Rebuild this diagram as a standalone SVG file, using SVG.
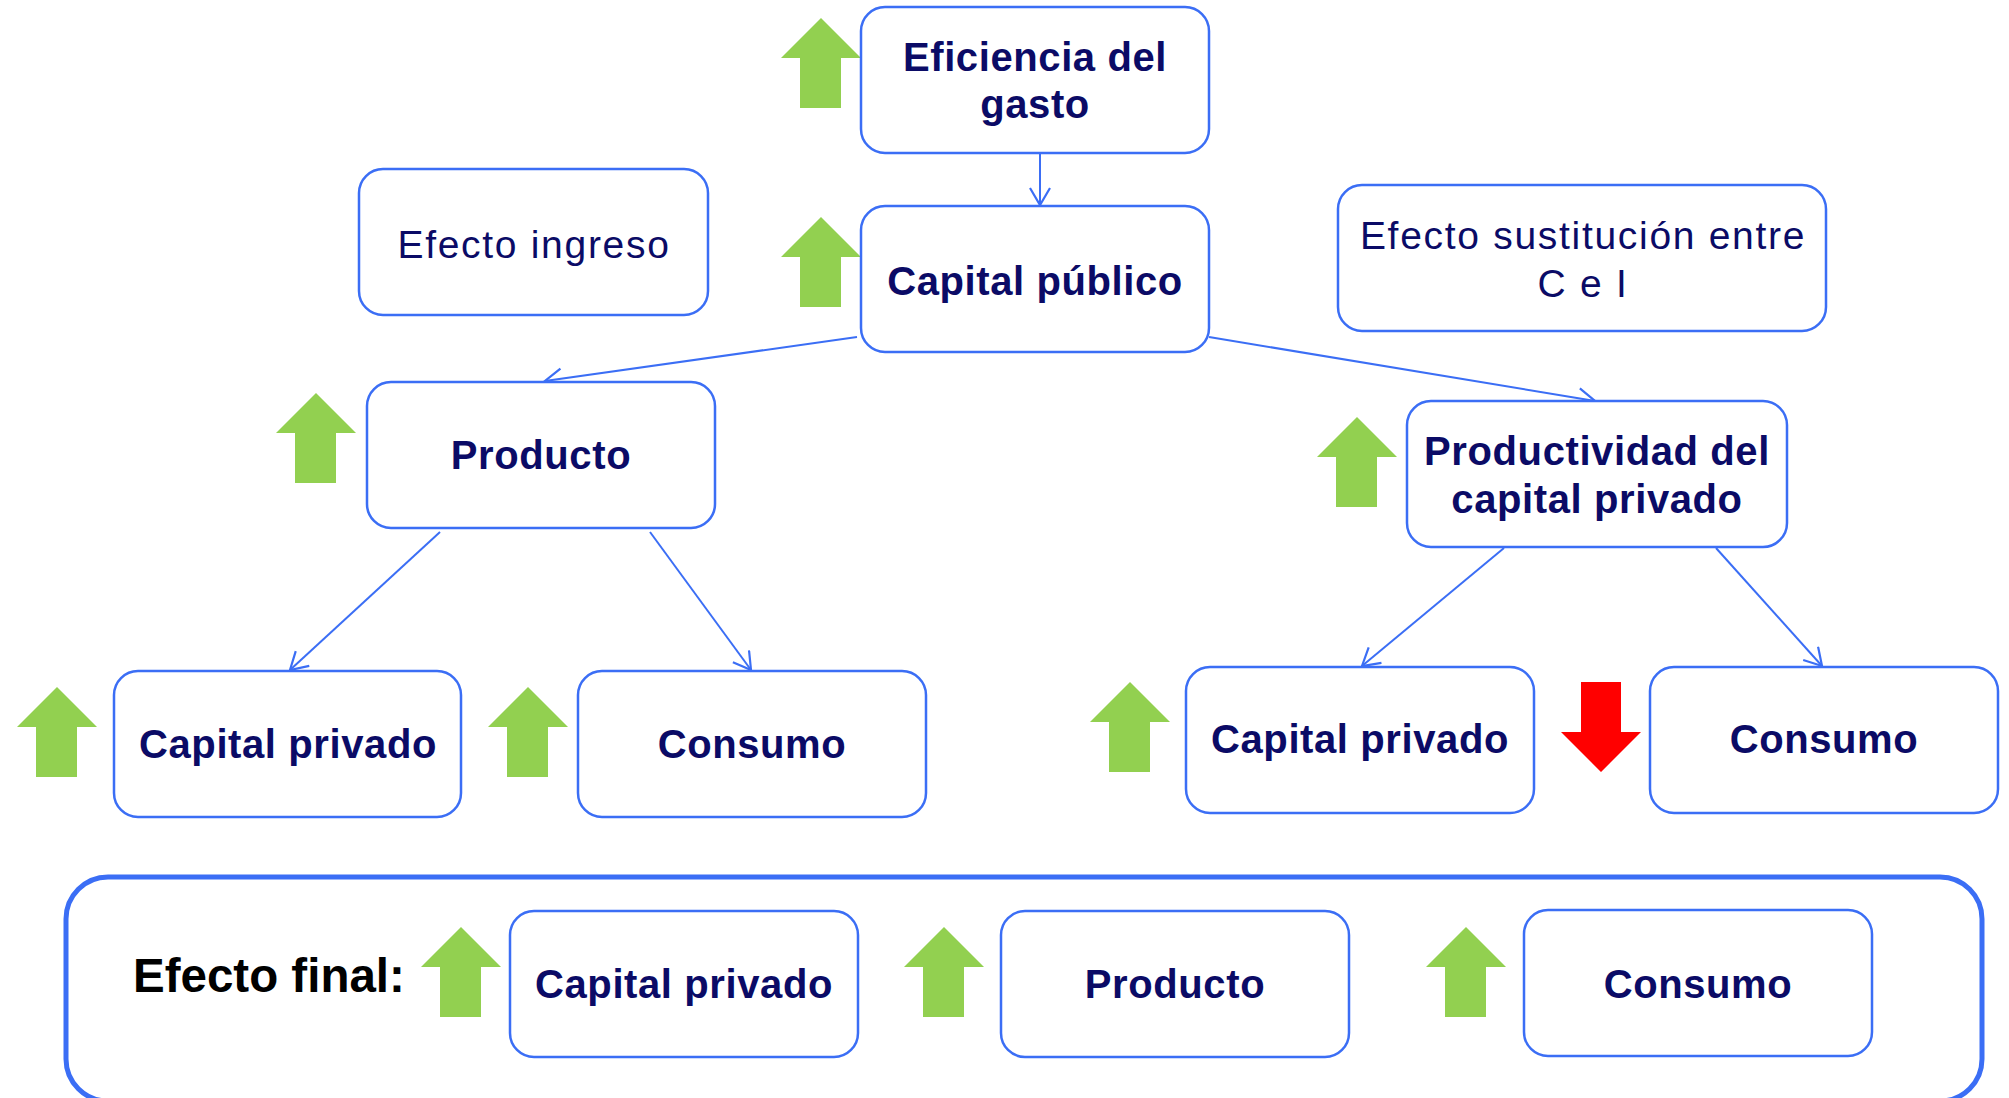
<svg xmlns="http://www.w3.org/2000/svg" xmlns:xlink="http://www.w3.org/1999/xlink" width="2009" height="1098" viewBox="0 0 2009 1098">
<style>
.box{fill:#fff;stroke:#3B6EF5;stroke-width:2.5}
.t{font-family:"Liberation Sans",Arial,sans-serif;font-weight:bold;font-size:40px;fill:#0B0B66;text-anchor:middle;letter-spacing:0.6px}
.r{font-family:"Liberation Sans",Arial,sans-serif;font-size:39px;fill:#0B0B66;text-anchor:middle;letter-spacing:1.7px}
.c{fill:none;stroke:#3B6EF5;stroke-width:2}
.up{fill:#92D050}
</style>
<defs>
<marker id="ah" markerUnits="userSpaceOnUse" markerWidth="22" markerHeight="24" refX="18" refY="11" orient="auto">
<path d="M1,1 L18,11 L1,21" fill="none" stroke="#3B6EF5" stroke-width="2.2"/>
</marker>
<path id="ua" d="M0,0 L40,40 L20,40 L20,90 L-21,90 L-21,40 L-40,40 Z"/>
</defs>
<rect width="2009" height="1098" fill="#fff"/>
<g id="connectors">
<line class="c" x1="1040" y1="153" x2="1040" y2="205" marker-end="url(#ah)"/>
<line class="c" x1="857" y1="337" x2="545" y2="381" marker-end="url(#ah)"/>
<line class="c" x1="1209" y1="337" x2="1595" y2="401" marker-end="url(#ah)"/>
<line class="c" x1="440" y1="532" x2="290" y2="670" marker-end="url(#ah)"/>
<line class="c" x1="650" y1="532" x2="751" y2="670" marker-end="url(#ah)"/>
<line class="c" x1="1504" y1="548" x2="1362" y2="666" marker-end="url(#ah)"/>
<line class="c" x1="1716" y1="548" x2="1822" y2="666" marker-end="url(#ah)"/>
</g>
<g id="eficiencia">
<use xlink:href="#ua" href="#ua" class="up" x="821" y="18"/>
<rect class="box" x="861" y="7" width="348" height="146" rx="24"/>
<text class="t" x="1035" y="71">Eficiencia del</text>
<text class="t" x="1035" y="118">gasto</text>
</g>
<g id="capital-publico">
<use xlink:href="#ua" href="#ua" class="up" x="821" y="217"/>
<rect class="box" x="861" y="206" width="348" height="146" rx="24"/>
<text class="t" x="1035" y="295">Capital público</text>
</g>
<g id="efecto-ingreso">
<rect class="box" x="359" y="169" width="349" height="146" rx="24"/>
<text class="r" x="534" y="258">Efecto ingreso</text>
</g>
<g id="efecto-sustitucion">
<rect class="box" x="1338" y="185" width="488" height="146" rx="24"/>
<text class="r" x="1583" y="249">Efecto sustitución entre</text>
<text class="r" x="1583" y="297">C e I</text>
</g>
<g id="producto">
<use xlink:href="#ua" href="#ua" class="up" x="316" y="393"/>
<rect class="box" x="367" y="382" width="348" height="146" rx="24"/>
<text class="t" x="541" y="469">Producto</text>
</g>
<g id="productividad">
<use xlink:href="#ua" href="#ua" class="up" x="1357" y="417"/>
<rect class="box" x="1407" y="401" width="380" height="146" rx="24"/>
<text class="t" x="1597" y="465">Productividad del</text>
<text class="t" x="1597" y="513">capital privado</text>
</g>
<g id="capital-privado-1">
<use xlink:href="#ua" href="#ua" class="up" x="57" y="687"/>
<rect class="box" x="114" y="671" width="347" height="146" rx="24"/>
<text class="t" x="288" y="758">Capital privado</text>
</g>
<g id="consumo-1">
<use xlink:href="#ua" href="#ua" class="up" x="528" y="687"/>
<rect class="box" x="578" y="671" width="348" height="146" rx="24"/>
<text class="t" x="752" y="758">Consumo</text>
</g>
<g id="capital-privado-2">
<use xlink:href="#ua" href="#ua" class="up" x="1130" y="682"/>
<rect class="box" x="1186" y="667" width="348" height="146" rx="24"/>
<text class="t" x="1360" y="753">Capital privado</text>
</g>
<g id="consumo-2">
<path d="M1581,682 L1621,682 L1621,732 L1641,732 L1601,772 L1561,732 L1581,732 Z" fill="#FF0000"/>
<rect class="box" x="1650" y="667" width="348" height="146" rx="24"/>
<text class="t" x="1824" y="753">Consumo</text>
</g>
<g id="efecto-final">
<rect x="66" y="877" width="1916" height="224" rx="42" fill="#fff" stroke="#3B6EF5" stroke-width="5"/>
<text x="133" y="992" font-family="'Liberation Sans',Arial,sans-serif" font-weight="bold" font-size="47.5" fill="#000">Efecto final:</text>
</g>
<g id="final-capital-privado">
<use xlink:href="#ua" href="#ua" class="up" x="461" y="927"/>
<rect class="box" x="510" y="911" width="348" height="146" rx="24"/>
<text class="t" x="684" y="998">Capital privado</text>
</g>
<g id="final-producto">
<use xlink:href="#ua" href="#ua" class="up" x="944" y="927"/>
<rect class="box" x="1001" y="911" width="348" height="146" rx="24"/>
<text class="t" x="1175" y="998">Producto</text>
</g>
<g id="final-consumo">
<use xlink:href="#ua" href="#ua" class="up" x="1466" y="927"/>
<rect class="box" x="1524" y="910" width="348" height="146" rx="24"/>
<text class="t" x="1698" y="998">Consumo</text>
</g>
</svg>
